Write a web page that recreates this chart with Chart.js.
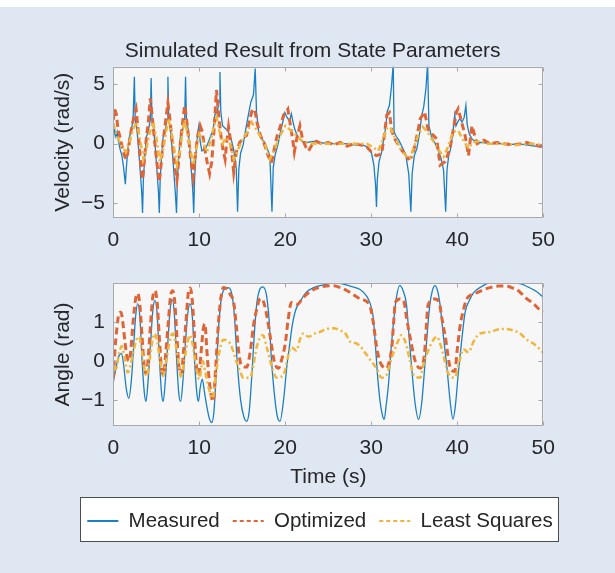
<!DOCTYPE html>
<html>
<head>
<meta charset="utf-8">
<title>Simulated Result from State Parameters</title>
<script src="https://cdn.jsdelivr.net/npm/chart.js@4.4.1/dist/chart.umd.min.js"></script>
<style>
    html, body {
        margin: 0;
        padding: 0;
        background: #ffffff;
    }

    #figure {
        position: relative;
        width: 615px;
        height: 573px;
        overflow: hidden;
    }

    #panel {
        position: absolute;
        left: 0;
        top: 7px;
        width: 615px;
        height: 566px;
        background: #dfe7f3;
    }

    .holder {
        position: absolute;
    }

    #velocityHolder {
        left: 0;
        top: 0;
        width: 615px;
        height: 260px;
    }

    #angleHolder {
        left: 0;
        top: 262px;
        width: 615px;
        height: 233px;
    }

    #legendBox {
        position: absolute;
        left: 80px;
        top: 497px;
        width: 477px;
        height: 43px;
        border: 1px solid #4d4d4d;
        background: #ffffff;
    }

    #legendHolder {
        left: 60px;
        top: 485px;
        width: 520px;
        height: 80px;
    }
</style>
</head>
<body>
<div id="figure">
    <div id="panel"></div>
    <div class="holder" id="velocityHolder"><canvas id="velocityChart"></canvas></div>
    <div class="holder" id="angleHolder"><canvas id="angleChart"></canvas></div>
    <div id="legendBox"></div>
    <div class="holder" id="legendHolder"><canvas id="legendChart"></canvas></div>
</div>

<script>
// Axis ticks
const timeTicks = [0, 10, 20, 30, 40, 50]
const velocityTicks = [-5, 0, 5]
const velocityTickLabels = ['\u22125', '0', '5']
const angleTicks = [-1, 0, 1]
const angleTickLabels = ['\u22121', '0', '1']

// Series names
const seriesLabels = ['Measured', 'Optimized', 'Least Squares']

// Velocity (rad/s), [time s, value]
const velMeasured = [
    [0, 0.4], [0.15, 1.2], [0.3, 0.6], [0.45, 1.0], [0.6, 0.2], [0.8, -0.5], [1.0, -1.0], [1.2, -2.0],
    [1.4, -3.4], [1.5, -2.2], [1.65, -0.8], [1.85, 0.5], [2.05, 1.0], [2.3, 2.0], [2.45, 5.6], [2.55, 2.0],
    [2.75, 1.2], [2.95, -0.5], [3.15, -2.5], [3.3, -4.0], [3.4, -5.8], [3.5, -3.0], [3.65, -1.2], [3.85, 0.6],
    [4.05, 1.0], [4.3, 2.0], [4.4, 5.5], [4.5, 2.0], [4.7, 1.2], [4.9, -0.5], [5.1, -2.5], [5.25, -4.0],
    [5.35, -5.8], [5.45, -3.0], [5.6, -1.2], [5.8, 0.6], [6.0, 1.0], [6.25, 2.0], [6.35, 5.6], [6.45, 2.0],
    [6.65, 1.2], [6.85, -0.5], [7.05, -2.5], [7.2, -4.0], [7.35, -5.8], [7.45, -3.0], [7.6, -1.2], [7.8, 0.6],
    [8.0, 1.0], [8.3, 2.0], [8.4, 5.6], [8.5, 2.0], [8.7, 1.2], [8.9, -0.5], [9.1, -2.5], [9.25, -4.0],
    [9.35, -5.8], [9.45, -3.0], [9.6, -1.0], [9.8, 0.8], [9.95, 1.5], [10.1, 0.2], [10.3, -0.6], [10.5, -0.5],
    [10.8, -0.3], [11.1, 0.2], [11.4, 0.8], [11.6, 1.1], [11.8, 2.4], [12.1, 2.7], [12.3, 3.5], [12.4, 6.0],
    [12.5, 2.7], [12.7, 1.5], [13.0, 1.3], [13.3, 1.1], [13.7, 0.4], [14.0, -0.5], [14.3, -2.1], [14.45, -5.7],
    [14.6, -2.1], [14.8, -0.8], [15.1, -0.1], [15.4, 1.2], [15.7, 2.4], [16.0, 3.5], [16.3, 4.1], [16.5, 6.3],
    [16.65, 2.7], [16.9, 1.0], [17.2, 0.5], [17.6, 0.1], [17.9, -0.4], [18.2, -1.0], [18.45, -5.7], [18.6, -2.0],
    [18.8, -1.0], [19.2, 0.1], [19.5, 1.2], [19.8, 2.1], [19.95, 2.6], [20.2, 2.2], [20.5, 1.9], [20.7, 2.5],
    [20.9, 1.8], [21.1, 1.2], [21.5, 0.5], [22.0, 0.2], [22.5, 0.1], [23.3, 0.2], [24, 0.1], [25, 0],
    [26, 0], [27, 0], [28, -0.1], [29, -0.1], [29.6, -0.3], [30.0, -0.7], [30.3, -1.8], [30.5, -3.5],
    [30.6, -5.3], [30.7, -3.0], [30.9, -1.5], [31.2, -0.7], [31.5, 0.6], [31.7, 1.5], [31.85, 2.7], [32.1, 3.2],
    [32.35, 4.8], [32.55, 6.7], [32.65, 1.0], [32.9, 0.6], [33.2, 0.3], [33.6, -0.3], [34.0, -0.9], [34.35, -2.5],
    [34.6, -5.7], [34.75, -2.5], [35.0, -1.0], [35.3, -0.4], [35.6, 0.8], [35.85, 2.3], [36.1, 3.1], [36.35, 4.6],
    [36.55, 6.7], [36.7, 1.5], [37.0, 0.6], [37.3, 0.2], [37.7, -0.4], [38.1, -1.2], [38.4, -2.2], [38.65, -5.7],
    [38.8, -2.2], [39.0, -1.0], [39.2, -0.5], [39.5, 1.0], [39.7, 2.4], [39.85, 1.5], [40.1, 1.9], [40.3, 2.1],
    [40.55, 1.8], [40.8, 2.2], [41.0, 3.2], [41.15, 1.6], [41.4, 0.8], [41.7, 0.4], [42.2, 0.1], [43, 0.1],
    [44, 0], [45, 0], [46, -0.1], [47, 0], [48, -0.1], [49, -0.2], [50, -0.3]
]

const velOptimized = [
    [0, 2.0], [0.15, 2.9], [0.35, 2.5], [0.55, 1.2], [0.8, 0.5], [1.1, -0.5], [1.35, -1.1], [1.55, -1.3],
    [1.8, -0.2], [2.1, 1.2], [2.4, 2.3], [2.65, 2.9], [2.85, 1.4], [3.1, -1.0], [3.25, -2.1], [3.4, -3.0],
    [3.6, -1.5], [3.85, 0.5], [4.1, 2.0], [4.3, 3.8], [4.5, 2.5], [4.7, 1.0], [4.95, -0.8], [5.15, -2.1],
    [5.35, -3.2], [5.55, -1.8], [5.8, 0.2], [6.1, 2.0], [6.35, 3.4], [6.55, 2.3], [6.8, 0.5], [7.05, -1.2],
    [7.25, -2.3], [7.4, -3.0], [7.6, -1.5], [7.85, 0.4], [8.1, 2.0], [8.3, 3.2], [8.5, 2.2], [8.75, 0.5],
    [9.0, -1.2], [9.2, -2.3], [9.3, -2.8], [9.5, -1.2], [9.8, 0.6], [10.1, 1.5], [10.35, 1.0], [10.6, -0.3],
    [10.9, -1.5], [11.2, -2.5], [11.45, -1.5], [11.7, 1.0], [12.0, 4.5], [12.2, 2.8], [12.45, 1.0], [12.75, -0.5],
    [13.0, -1.3], [13.2, 0.2], [13.4, 1.4], [13.65, 0.2], [14.0, -2.4], [14.3, -0.7], [14.7, 0.1], [15.1, 0.5],
    [15.5, 0.7], [15.8, 1.8], [16.1, 2.7], [16.45, 2.9], [16.7, 1.8], [17.1, 0.7], [17.5, 0.1], [18.0, -1.0],
    [18.4, -1.6], [18.7, -0.5], [19.1, 0.8], [19.5, 1.6], [19.8, 2.4], [20.3, 2.9], [20.6, 1.5], [20.85, 0.4],
    [21.05, -0.7], [21.35, 0.5], [21.7, 1.5], [22.0, 0.4], [22.4, -0.3], [22.7, -0.6], [23.1, -0.1], [23.6, 0.2],
    [24.2, 0.0], [25.0, 0.1], [25.6, -0.1], [26.4, 0.1], [27.2, -0.2], [28.0, 0.0], [28.7, -0.1], [29.4, -0.2],
    [30.2, -0.84], [30.6, -1.0], [31.2, -0.84], [31.5, 0.6], [31.8, 2.4], [32.1, 2.6], [32.4, 1.0], [32.8, 0.3],
    [33.5, -0.5], [34.3, -1.26], [34.7, -1.1], [35.1, -0.1], [35.7, 2.1], [36.2, 2.66], [36.6, 1.2], [37.6, 0.4],
    [38.0, -1.8], [38.6, -1.5], [39.15, -0.4], [39.9, 2.66], [40.1, 2.94], [40.9, 0.7], [41.3, -1.0], [41.7, 1.5],
    [42.3, 0.0], [43.1, 0.3], [43.8, 0.0], [44.6, 0.1], [45.5, 0.0], [46.6, -0.1], [47.4, 0.0], [48.1, 0.1],
    [48.9, -0.1], [49.6, -0.2], [50, -0.1]
]

const velLeastSquares = [
    [0, 1.7], [0.3, 0.9], [0.6, 0.4], [1.0, -0.3], [1.5, -0.7], [1.9, 0.2], [2.3, 1.2], [2.7, 1.8],
    [3.0, 0.8], [3.5, -1.3], [3.8, -0.6], [4.2, 0.8], [4.6, 1.8], [5.0, 0.6], [5.4, -1.5], [5.8, -0.5],
    [6.1, 0.8], [6.4, 2.1], [6.8, 0.8], [7.4, -1.8], [7.8, -0.4], [8.0, 0.8], [8.3, 2.0], [8.7, 0.6],
    [9.3, -1.8], [9.7, -0.3], [10.0, 0.8], [10.4, 0.2], [10.9, -0.7], [11.3, 0.2], [11.8, 1.8], [12.0, 2.2],
    [12.3, 1.2], [12.7, 0.0], [13.1, 0.5], [13.5, 0.2], [14.0, -1.3], [14.5, -0.5], [15.0, 0.3], [15.5, 0.9],
    [16.1, 1.8], [16.6, 1.2], [17.2, 0.5], [17.7, -0.2], [18.2, -1.3], [18.8, -0.4], [19.4, 0.7], [20.0, 1.5],
    [20.5, 1.2], [21.3, 0.7], [21.8, 0.3], [22.5, 0.1], [23.5, 0.0], [25, 0.0], [27, 0.0], [28.5, 0.0],
    [29.5, 0.0], [30.2, -0.3], [30.8, -0.6], [31.3, 0.3], [31.8, 1.26], [32.2, 1.4], [32.8, 0.4], [33.5, -0.5],
    [34.1, -1.1], [34.5, -1.2], [35.0, -0.2], [35.5, 0.8], [36.0, 1.4], [36.6, 0.9], [37.3, 0.1], [38.0, -0.7],
    [38.4, -1.1], [38.9, -0.3], [39.5, 1.0], [40.1, 1.1], [40.6, 0.4], [41.3, -0.4], [41.8, 0.1], [42.5, 0.2],
    [43.5, 0.0], [45, 0.0], [47, -0.1], [48.5, 0.0], [50, -0.1]
]

// Angle (rad), [time s, value]
const angMeasured = [
    [0, -0.55], [0.3, -0.2], [0.6, 0.1], [0.95, 0.19], [1.2, -0.1], [1.5, -0.7], [1.8, -0.96], [2.1, -0.5],
    [2.4, 0.5], [2.6, 1.15], [2.85, 1.47], [3.1, 1.1], [3.35, 0.0], [3.6, -0.8], [3.8, -1.04], [4.05, -0.5],
    [4.35, 0.5], [4.6, 1.3], [4.85, 1.55], [5.1, 1.2], [5.35, 0.1], [5.6, -0.8], [5.8, -1.04], [6.05, -0.5],
    [6.35, 0.5], [6.6, 1.3], [6.86, 1.57], [7.1, 1.2], [7.35, 0.1], [7.6, -0.8], [7.83, -1.04], [8.1, -0.5],
    [8.4, 0.5], [8.65, 1.2], [8.92, 1.47], [9.2, 1.1], [9.45, 0.0], [9.7, -0.8], [9.9, -1.04], [10.1, -0.7],
    [10.35, -0.47], [10.6, -0.8], [10.9, -1.2], [11.2, -1.5], [11.45, -1.58], [11.7, -1.3], [11.95, -0.4], [12.2, 0.7],
    [12.5, 1.5], [12.85, 1.82], [13.37, 1.88], [13.8, 1.7], [14.1, 1.1], [14.4, 0.0], [14.8, -1.0], [15.2, -1.45],
    [15.5, -1.55], [15.8, -1.3], [16.1, -0.4], [16.4, 0.7], [16.7, 1.5], [17.0, 1.82], [17.37, 1.9], [17.8, 1.7],
    [18.1, 1.1], [18.4, 0.0], [18.8, -1.0], [19.1, -1.45], [19.38, -1.55], [19.8, -1.0], [20.2, -0.1], [20.5, 0.4],
    [20.8, 0.9], [21.2, 1.3], [21.7, 1.51], [22.4, 1.75], [23.3, 1.88], [24.5, 1.95], [25.6, 2.0], [26.5, 1.98],
    [27.5, 1.92], [28.7, 1.83], [29.5, 1.65], [29.9, 1.45], [30.2, 1.15], [30.45, 0.5], [30.7, -0.3], [31.0, -1.0],
    [31.25, -1.35], [31.5, -1.5], [31.75, -1.1], [32.0, -0.6], [32.3, 0.3], [32.6, 1.03], [32.9, 1.6], [33.3, 1.93],
    [33.7, 1.8], [34.1, 1.43], [34.4, 0.6], [34.7, -0.19], [35.1, -1.1], [35.5, -1.5], [35.85, -1.1], [36.2, -0.19],
    [36.5, 0.7], [36.8, 1.43], [37.1, 1.8], [37.4, 1.93], [37.7, 1.8], [38.0, 1.43], [38.4, 0.6], [38.8, -0.19],
    [39.2, -1.1], [39.5, -1.5], [39.8, -1.1], [40.1, -0.35], [40.5, 0.5], [40.9, 1.24], [41.4, 1.55], [41.9, 1.75],
    [42.8, 1.9], [43.8, 2.0], [45.5, 2.0], [47.3, 1.98], [48.2, 1.9], [48.8, 1.83], [49.4, 1.75], [50, 1.63]
]

const angOptimized = [
    [0, -0.45], [0.2, 0.3], [0.4, 0.8], [0.65, 1.2], [0.9, 1.25], [1.1, 1.0], [1.35, 0.5], [1.6, 0.1],
    [1.85, 0.0], [2.05, 0.3], [2.3, 1.0], [2.6, 1.6], [2.85, 1.73], [3.1, 1.4], [3.35, 0.6], [3.6, -0.15],
    [3.85, -0.33], [4.1, 0.2], [4.35, 1.0], [4.6, 1.65], [4.85, 1.8], [5.1, 1.5], [5.35, 0.6], [5.6, -0.2],
    [5.85, -0.35], [6.1, 0.2], [6.4, 1.0], [6.65, 1.65], [6.9, 1.8], [7.15, 1.5], [7.4, 0.6], [7.65, -0.2],
    [7.9, -0.35], [8.15, 0.2], [8.45, 1.0], [8.7, 1.7], [8.95, 1.87], [9.2, 1.5], [9.45, 0.6], [9.7, -0.2],
    [9.95, -0.35], [10.2, 0.2], [10.45, 0.8], [10.65, 0.95], [10.9, 0.2], [11.2, -0.6], [11.6, -1.04], [11.9, -0.2],
    [12.2, 0.9], [12.5, 1.6], [12.8, 1.88], [13.2, 1.85], [13.6, 1.7], [14.0, 1.5], [14.3, 0.9], [14.6, 0.2],
    [14.9, -0.12], [15.5, -0.16], [15.9, 0.2], [16.3, 0.9], [16.7, 1.35], [17.1, 1.6], [17.5, 1.5], [17.9, 1.1],
    [18.3, 0.55], [18.7, 0.0], [19.2, -0.19], [19.6, 0.05], [20.0, 0.45], [20.3, 1.0], [20.7, 1.5], [21.0, 1.48],
    [21.4, 1.45], [22.0, 1.6], [22.5, 1.71], [23.5, 1.85], [24.8, 1.92], [25.6, 1.93], [26.4, 1.88], [27.2, 1.8],
    [27.9, 1.7], [28.7, 1.59], [29.8, 1.43], [30.2, 1.03], [30.6, 0.38], [30.9, 0.05], [31.2, -0.11], [31.8, -0.19],
    [32.1, 0.0], [32.4, 0.38], [32.6, 1.0], [32.8, 1.5], [33.3, 1.59], [33.8, 1.51], [34.1, 1.1], [34.5, 0.62],
    [35.1, 0.0], [35.7, -0.19], [36.2, 0.22], [36.4, 0.9], [36.6, 1.43], [37.4, 1.59], [37.9, 1.5], [38.2, 1.1],
    [38.6, 0.62], [39.2, -0.19], [39.7, -0.27], [40.0, 0.3], [40.3, 0.86], [40.7, 1.3], [41.1, 1.59], [41.7, 1.7],
    [42.3, 1.75], [43.0, 1.82], [43.8, 1.88], [44.8, 1.92], [45.7, 1.92], [46.3, 1.88], [46.9, 1.83], [47.5, 1.72],
    [48.1, 1.59], [48.8, 1.48], [49.6, 1.31], [50, 1.25]
]

const angLeastSquares = [
    [0, -0.1], [0.3, -0.25], [0.6, 0.1], [1.0, 0.38], [1.3, 0.1], [1.7, -0.3], [2.0, -0.1], [2.4, 0.3],
    [2.7, 0.55], [3.0, 0.62], [3.3, 0.3], [3.6, -0.2], [3.9, -0.39], [4.2, 0.0], [4.5, 0.45], [4.8, 0.7],
    [5.1, 0.5], [5.45, 0.0], [5.8, -0.39], [6.15, 0.0], [6.5, 0.45], [6.9, 0.7], [7.2, 0.5], [7.55, 0.0],
    [7.9, -0.43], [8.25, 0.0], [8.6, 0.45], [8.9, 0.66], [9.2, 0.45], [9.6, -0.1], [10.0, -0.47], [10.4, 0.0],
    [10.7, -0.3], [11.1, -0.7], [11.55, -0.96], [11.9, -0.4], [12.3, 0.2], [12.8, 0.54], [13.6, 0.44], [14.3, 0.0],
    [14.8, -0.3], [15.1, -0.43], [15.9, -0.43], [16.3, -0.1], [16.7, 0.38], [17.4, 0.66], [17.9, 0.3], [18.5, -0.2],
    [19.0, -0.43], [19.8, -0.35], [20.3, 0.1], [20.7, 0.35], [21.3, 0.26], [21.7, 0.55], [22.1, 0.7], [22.7, 0.62],
    [23.4, 0.7], [24.0, 0.74], [24.8, 0.82], [25.6, 0.84], [26.4, 0.78], [27.0, 0.7], [27.5, 0.5], [28.1, 0.46],
    [28.7, 0.38], [29.3, 0.2], [29.8, 0.05], [30.6, -0.19], [31.2, -0.43], [31.8, -0.35], [32.2, -0.05], [32.6, 0.22],
    [33.1, 0.5], [33.5, 0.66], [34.0, 0.46], [34.5, 0.0], [34.9, -0.35], [35.7, -0.43], [36.0, -0.15], [36.4, 0.14],
    [37.0, 0.45], [37.6, 0.62], [38.1, 0.38], [38.6, -0.05], [39.0, -0.35], [39.7, -0.43], [40.2, -0.05], [40.7, 0.3],
    [41.3, 0.22], [41.9, 0.5], [42.6, 0.7], [43.8, 0.74], [44.6, 0.8], [45.4, 0.82], [46.5, 0.78], [47.3, 0.7],
    [48.1, 0.54], [48.8, 0.45], [49.6, 0.3], [50, 0.2]
]

// Look
const fontFamily = "'Liberation Sans', Arial, Helvetica, sans-serif"
const textColor = '#262626'
const boxColor = '#a8a8a8'
const plotBackground = '#f7f7f7'
const innerTickLength = 4
const seriesColors = ['#1a7fc6', '#df6436', '#efb63a']
const seriesDashes = [[], [7, 4], [6, 3, 2, 3]]
const seriesWidths = [1.3, 3, 2.5]
const legendWidths = [2, 2, 2]

// plot face, box and inward MATLAB-style tick marks
const axesBox = {
    id: 'axesBox',
    beforeDraw(chart) {
        const { ctx, chartArea: a } = chart
        ctx.save()
        ctx.fillStyle = plotBackground
        ctx.fillRect(a.left, a.top, a.right - a.left, a.bottom - a.top)
        ctx.restore()
    },
    afterDraw(chart) {
        const { ctx, chartArea: a, scales } = chart
        const left = Math.round(a.left) + 0.5
        const right = Math.round(a.right) - 0.5
        const top = Math.round(a.top) + 0.5
        const bottom = Math.round(a.bottom) - 0.5
        ctx.save()
        ctx.strokeStyle = boxColor
        ctx.lineWidth = 1
        ctx.beginPath()
        scales.x.ticks.forEach((tick) => {
            const px = Math.round(scales.x.getPixelForValue(tick.value)) + 0.5
            ctx.moveTo(px, bottom)
            ctx.lineTo(px, bottom - innerTickLength)
            ctx.moveTo(px, top)
            ctx.lineTo(px, top + innerTickLength)
        })
        scales.y.ticks.forEach((tick) => {
            const py = Math.round(scales.y.getPixelForValue(tick.value)) + 0.5
            ctx.moveTo(left, py)
            ctx.lineTo(left + innerTickLength, py)
            ctx.moveTo(right, py)
            ctx.lineTo(right - innerTickLength, py)
        })
        ctx.stroke()
        ctx.strokeRect(left, top, right - left, bottom - top)
        ctx.restore()
    }
}

function buildDatasets(series, smooth) {
    // drawn last-to-first, so Least Squares ends up on top like MATLAB
    return [2, 1, 0].map((i) => ({
        label: seriesLabels[i],
        data: series[i],
        borderColor: seriesColors[i],
        borderWidth: seriesWidths[i],
        borderDash: seriesDashes[i],
        pointRadius: 0,
        pointHoverRadius: 0,
        fill: false,
        tension: 0,
        cubicInterpolationMode: smooth ? 'monotone' : 'default',
        clip: 0
    }))
}

function timeScale(axisHeight, showTitle) {
    return {
        type: 'linear',
        min: 0,
        max: 50,
        afterBuildTicks: (scale) => { scale.ticks = timeTicks.map((v) => ({ value: v })) },
        afterFit: (scale) => { scale.height = axisHeight },
        grid: { display: false, drawTicks: false },
        border: { display: false },
        ticks: {
            color: textColor,
            font: { family: fontFamily, size: 21 },
            padding: 10,
            maxRotation: 0,
            autoSkip: false,
            callback: (value) => String(value)
        },
        title: {
            display: showTitle,
            text: 'Time (s)',
            color: textColor,
            font: { family: fontFamily, size: 21 },
            padding: { top: 0, bottom: 5.4 }
        }
    }
}

function valueScale(min, max, ticks, labels, titleText) {
    return {
        type: 'linear',
        min: min,
        max: max,
        afterBuildTicks: (scale) => { scale.ticks = ticks.map((v) => ({ value: v })) },
        afterFit: (scale) => { scale.width = 102.9 },
        grid: { display: false, drawTicks: false },
        border: { display: false },
        ticks: {
            color: textColor,
            font: { family: fontFamily, size: 21 },
            padding: 8.3,
            callback: (value) => labels[ticks.indexOf(value)]
        },
        title: {
            display: true,
            text: titleText,
            color: textColor,
            font: { family: fontFamily, size: 21 },
            padding: { top: 40, bottom: 0 }
        }
    }
}

const velocityChart = new Chart(document.getElementById('velocityChart'), {
    type: 'line',
    data: { datasets: buildDatasets([velMeasured, velOptimized, velLeastSquares], false) },
    options: {
        animation: false,
        responsive: true,
        maintainAspectRatio: false,
        devicePixelRatio: 1,
        events: [],
        layout: { padding: { left: 10.4, top: 0, right: 0, bottom: 0 } },
        scales: {
            x: timeScale(42.3, false),
            y: valueScale(-6.2, 6.45, velocityTicks, velocityTickLabels, 'Velocity (rad/s)'),
            // empty right-hand axis only reserves the margin right of the box
            yRight: {
                position: 'right',
                display: true,
                grid: { display: false, drawTicks: false },
                border: { display: false },
                ticks: { display: false },
                afterFit: (scale) => { scale.width = 71.7 }
            }
        },
        plugins: {
            legend: { display: false },
            tooltip: { enabled: false },
            title: {
                display: true,
                text: 'Simulated Result from State Parameters',
                color: textColor,
                font: { family: fontFamily, size: 21, weight: 'normal' },
                padding: { top: 38.4, bottom: 3.1 }
            }
        }
    },
    plugins: [axesBox]
})

const angleChart = new Chart(document.getElementById('angleChart'), {
    type: 'line',
    data: { datasets: buildDatasets([angMeasured, angOptimized, angLeastSquares], true) },
    options: {
        animation: false,
        responsive: true,
        maintainAspectRatio: false,
        devicePixelRatio: 1,
        events: [],
        layout: { padding: { left: 10.4, top: 13, right: 71.7, bottom: 0 } },
        scales: {
            x: timeScale(69, true),
            y: valueScale(-1.67, 2.0, angleTicks, angleTickLabels, 'Angle (rad)')
        },
        plugins: {
            legend: { display: false },
            tooltip: { enabled: false }
        }
    },
    plugins: [axesBox]
})

// the legend sits in a transparent canvas over the white box
const legendChart = new Chart(document.getElementById('legendChart'), {
    type: 'line',
    data: {
        datasets: seriesLabels.map((label, i) => ({
            label: label,
            data: [],
            borderColor: seriesColors[i],
            borderDash: seriesDashes[i]
        }))
    },
    options: {
        animation: false,
        responsive: true,
        maintainAspectRatio: false,
        devicePixelRatio: 1,
        events: [],
        layout: { padding: { top: 12.75, left: 0, right: 0, bottom: 0 } },
        scales: {
            x: { display: false },
            y: { display: false }
        },
        plugins: {
            tooltip: { enabled: false },
            legend: {
                position: 'top',
                labels: {
                    color: textColor,
                    font: { family: fontFamily, size: 20.5 },
                    usePointStyle: true,
                    pointStyleWidth: 31,
                    padding: 13,
                    generateLabels: (chart) => chart.data.datasets.map((ds, i) => ({
                        text: ds.label,
                        fillStyle: seriesColors[i],
                        strokeStyle: seriesColors[i],
                        lineWidth: legendWidths[i],
                        lineDash: i === 0 ? [] : [4, 3],
                        pointStyle: 'line',
                        fontColor: textColor,
                        hidden: false,
                        datasetIndex: i
                    }))
                }
            }
        }
    }
})
</script>
</body>
</html>
